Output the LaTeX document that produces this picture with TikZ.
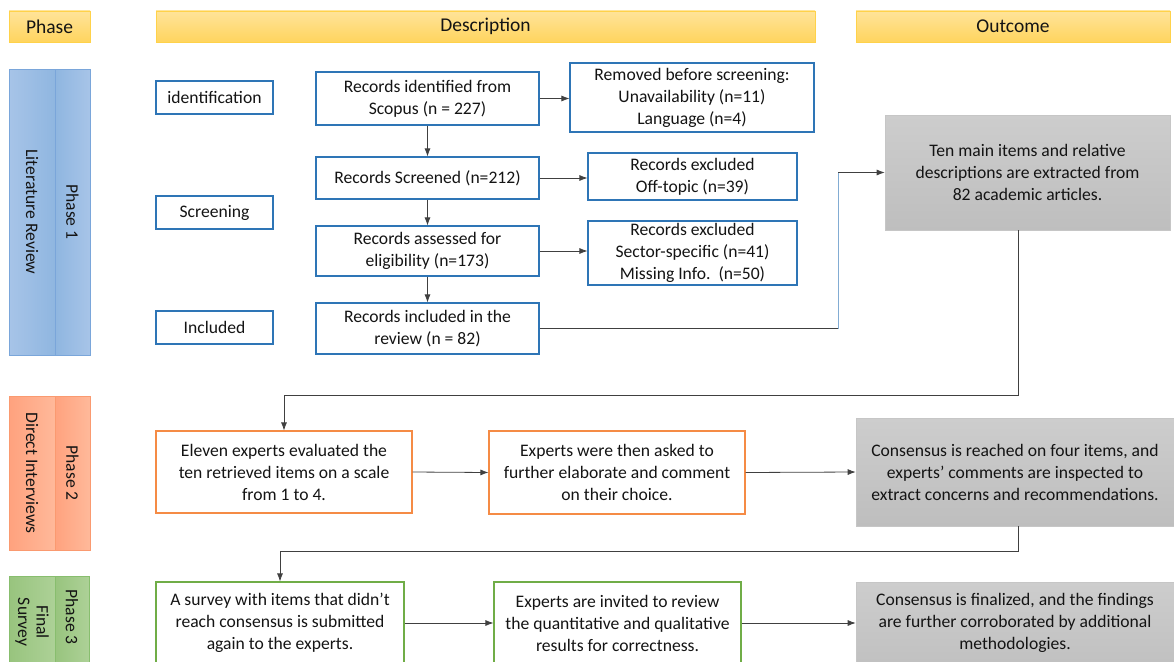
\documentclass[tikz,border=0pt]{standalone}
\usepackage{fontspec}
\setmainfont{Carlito}
\usetikzlibrary{arrows.meta}
\definecolor{bluebd}{HTML}{2E75B6}
\definecolor{orbd}{HTML}{F58B45}
\definecolor{grbd}{HTML}{70AD47}
\definecolor{txt}{HTML}{141414}
\definecolor{arr}{HTML}{404040}
\tikzset{
  every node/.style={font=\fontsize{17.6}{22}\selectfont, text=txt, align=center, inner sep=2pt},
  hdrbox/.style={draw=hdrbd, line width=0.7pt, top color=hdrtop, bottom color=hdrbot, font=\fontsize{19.5}{22}\selectfont},
  bbox/.style={draw=bluebd, line width=1.1pt, fill=white},
  obox/.style={draw=orbd, line width=1.1pt, fill=white},
  gbox/.style={draw=grbd, line width=1.1pt, fill=white},
  greybox/.style={draw=gray!45, line width=0.6pt, top color=greytop, bottom color=greybot},
  conn/.style={draw=arr, line width=0.8pt, -{Latex[length=8pt,width=6pt]}},
  plain/.style={draw=arr, line width=0.8pt},
  rot/.style={rotate=-90, font=\fontsize{17.6}{18.5}\selectfont},
}
\definecolor{hdrtop}{HTML}{FFE49A}
\definecolor{hdrbot}{HTML}{FFD45E}
\definecolor{hdrbd}{HTML}{FFD24A}
\definecolor{greytop}{HTML}{CDCDCD}
\definecolor{greybot}{HTML}{BEBEBE}
\definecolor{bl1}{HTML}{A7C4E8}
\definecolor{bl2}{HTML}{8FB6E0}
\definecolor{blbd}{HTML}{7AA6DA}
\definecolor{or1}{HTML}{FFB99A}
\definecolor{or2}{HTML}{FFA27E}
\definecolor{orb}{HTML}{FA9A70}
\definecolor{gr1}{HTML}{ADD197}
\definecolor{gr2}{HTML}{98C47E}
\definecolor{grb}{HTML}{88BE6E}
\begin{document}
\begin{tikzpicture}[x=1pt,y=-1pt]
\useasboundingbox (0,0) rectangle (1174,661);
\clip (0,0) rectangle (1174,661);
% headers
\node[hdrbox, minimum width=81, minimum height=31] (hph) at (49.5,26.5) {Phase};
\node[hdrbox, minimum width=659, minimum height=31] (hde) at (485.5,26.5) {Description};
\node[hdrbox, minimum width=314, minimum height=31] (hou) at (1013,26.5) {Outcome};
% phase bars
\node[draw=blbd, line width=0.6pt, left color=bl1, right color=bl2, minimum width=46, minimum height=286] (p1a) at (32,212) {};
\node[draw=blbd, line width=0.6pt, left color=bl2, right color=bl1, minimum width=35, minimum height=286] (p1b) at (72.5,212) {};
\node[rot] (p1at) at (p1a) {Literature Review};
\node[rot] (p1bt) at (p1b) {Phase 1};
\node[draw=orb, line width=0.6pt, left color=or2, right color=or1, minimum width=46, minimum height=154] (p2a) at (32,473) {};
\node[draw=orb, line width=0.6pt, left color=or2, right color=or1, minimum width=35, minimum height=154] (p2b) at (72.5,473) {};
\node[rot] (p2at) at (p2a) {Direct Interviews};
\node[rot] (p2bt) at (p2b) {Phase 2};
\node[draw=grb, line width=0.6pt, left color=gr2, right color=gr1, minimum width=46, minimum height=100] (p3a) at (32.5,626) {};
\node[draw=grb, line width=0.6pt, left color=gr2, right color=gr1, minimum width=34, minimum height=100] (p3b) at (72,626) {};
\node[rot] (p3at) at (32,622) {Final\\Survey};
\node[rot] (p3bt) at (72,617) {Phase 3};
% left labels
\node[bbox, minimum width=117, minimum height=33] (lid) at (214.5,97.5) {identification};
\node[bbox, minimum width=117, minimum height=33] (lsc) at (214.5,212.5) {Screening};
\node[bbox, minimum width=117, minimum height=33] (lin) at (214.5,327.5) {Included};
% middle column
\node[bbox, minimum width=223, minimum height=53] (m1) at (427.5,98.5) {Records identified from\\Scopus (n = 227)};
\node[bbox, minimum width=223, minimum height=42] (m2) at (427.5,178) {Records Screened (n=212)};
\node[bbox, minimum width=223, minimum height=50] (m3) at (427.5,251) {Records assessed for\\eligibility (n=173)};
\node[bbox, minimum width=223, minimum height=51] (m4) at (427.5,328.5) {Records included in the\\review (n = 82)};
% right column
\node[bbox, minimum width=244, minimum height=69] (r1) at (692,97.5) {Removed before screening:\\Unavailability (n=11)\\Language (n=4)};
\node[bbox, minimum width=209, minimum height=47] (r2) at (692.5,176.5) {Records excluded\\Off-topic (n=39)};
\node[bbox, minimum width=209, minimum height=64] (r3) at (692.5,253) {Records excluded\\Sector-specific (n=41)\\Missing Info.\ \ (n=50)};
% outcome boxes
\node[greybox, minimum width=285, minimum height=115] (g1) at (1027.5,172.5) {Ten main items and relative\\descriptions are extracted from\\82 academic articles.};
\node[greybox, minimum width=318, minimum height=108] (g2) at (1015,472) {Consensus is reached on four items, and\\experts’ comments are inspected to\\extract concerns and recommendations.};
\node[greybox, minimum width=318, minimum height=100] (g3) at (1015,632) {};
\node (g3t) at (1015,623) {Consensus is finalized, and the findings\\are further corroborated by additional\\methodologies.};
% phase 2 boxes
\node[obox, minimum width=256, minimum height=82] (o1) at (284,472) {Eleven experts evaluated the\\ten retrieved items on a scale\\from 1 to 4.};
\node[obox, minimum width=256, minimum height=83] (o2) at (617,472.5) {Experts were then asked to\\further elaborate and comment\\on their choice.};
% phase 3 boxes
\node[gbox, minimum width=248, minimum height=100] (q1) at (280,632) {};
\node (q1t) at (280,623) {A survey with items that didn’t\\reach consensus is submitted\\again to the experts.};
\node[gbox, minimum width=247, minimum height=100] (q2) at (617.5,632) {};
\node (q2t) at (617.5,623) {Experts are invited to review\\the quantitative and qualitative\\results for correctness.};
% connectors
\draw[conn] (m1) -- (m2);
\draw[conn] (m2) -- (m3);
\draw[conn] (m3) -- (m4);
\draw[conn] (m1.east) -- (r1.west |- m1.east);
\draw[conn] (m2.east) -- (r2.west |- m2.east);
\draw[conn] (m3.east) -- (r3.west |- m3.east);
\coordinate (k1) at (838,328.5);
\coordinate (k2) at (838,172.5);
\draw[plain] (m4.east) -- (k1);
\draw[line width=0.8pt, draw=bluebd!60] (k1) -- (k2);
\draw[conn] (k2) -- (g1.west);
\coordinate (d1) at (1018,230);
\coordinate (d2) at (1018,395);
\draw[conn] (d1) -- (d2) -| (o1.north);
\draw[conn] (o1.east) -- (o2.west);
\draw[conn] (o2.east) -- (g2.west);
\coordinate (e1) at (1018,526);
\coordinate (e2) at (1018,551);
\draw[conn] (e1) -- (e2) -| (q1.north);
\draw[conn] (q1.east |- q1t) -- (q2.west |- q1t);
\draw[conn] (q2.east |- q2t) -- (g3.west |- q2t);
\end{tikzpicture}
\end{document}
